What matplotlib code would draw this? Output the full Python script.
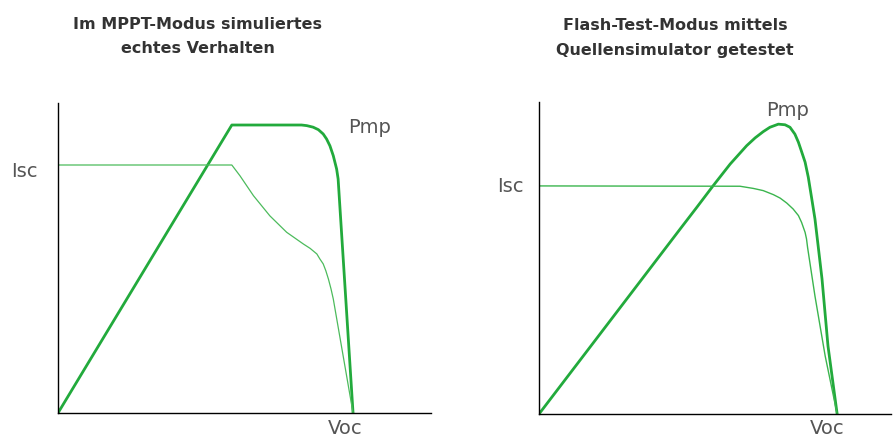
import matplotlib
matplotlib.use("Agg")
import matplotlib.pyplot as plt

# Kennlinien, Achsen jeweils 0..100 (relative Einheiten)
# links: MPPT-Modus
mppt_p_x = [0, 46.6, 65.3, 66.7, 68.4, 69.8, 71.1, 72.0, 72.9, 73.8, 74.7, 75.1, 79.1]
mppt_p_y = [0, 92.9, 92.9, 92.7, 92.2, 91.4, 90.0, 88.4, 86.2, 83.0, 78.7, 75.5, 0]
mppt_i_x = [0, 46.6, 48.8, 52.4, 56.8, 61.3, 65.8, 67.6, 69.4, 70.2, 71.1, 71.8, 72.5, 73.2, 73.8, 79.1]
mppt_i_y = [80.0, 80.0, 76.5, 70.1, 63.6, 58.3, 54.5, 53.1, 51.3, 49.7, 48.1, 45.9, 43.2, 40.0, 36.8, 0]

# rechts: Flash-Test-Modus
flash_p_x = [0, 40.1, 44.8, 49.5, 54.3, 59.0, 61.4, 63.7, 65.6, 68.0, 69.9, 71.3, 72.7,
             73.7, 74.6, 75.6, 76.5, 77.5, 78.4, 79.3, 80.4, 82.1, 84.7]
flash_p_y = [0, 59.3, 66.2, 73.2, 80.1, 86.0, 88.5, 90.5, 91.9, 92.9, 92.7, 91.9, 89.7,
             87.1, 84.1, 80.7, 75.9, 68.9, 62.5, 53.9, 43.3, 21.8, 0]
flash_i_x = [0, 57.1, 60.9, 63.7, 66.6, 68.5, 70.4, 72.2, 73.7, 74.6, 75.6, 76.0, 76.3,
             78.4, 81.3, 84.7]
flash_i_y = [73.1, 73.0, 72.3, 71.6, 70.3, 69.2, 67.6, 65.7, 63.6, 61.4, 58.2, 56.1, 53.4,
             37.8, 18.6, 0]

titles = [["Im MPPT-Modus simuliertes", "echtes Verhalten"],
          ["Flash-Test-Modus mittels", "Quellensimulator getestet"]]

GREEN = "#22aa3c"
TXT = "#555555"

fig = plt.figure(figsize=(8.95, 4.39), dpi=100)

ax1 = fig.add_axes([58 / 895, 25 / 439, 373 / 895, 310 / 439])
ax2 = fig.add_axes([539 / 895, 24 / 439, 352 / 895, 312 / 439])

ax1.plot(mppt_p_x, mppt_p_y, color=GREEN, lw=2.0, solid_joinstyle="round")
ax1.plot(mppt_i_x, mppt_i_y, color="#4cbb5c", lw=0.9, solid_joinstyle="round")
ax2.plot(flash_p_x, flash_p_y, color=GREEN, lw=2.0, solid_joinstyle="round")
ax2.plot(flash_i_x, flash_i_y, color="#3bb54e", lw=1.0, solid_joinstyle="round")

for ax in (ax1, ax2):
    ax.set_xlim(0, 100)
    ax.set_ylim(0, 100)
    ax.set_xticks([])
    ax.set_yticks([])
    ax.spines["top"].set_visible(False)
    ax.spines["right"].set_visible(False)
    ax.spines["left"].set_linewidth(1.0)
    ax.spines["bottom"].set_linewidth(1.0)

# Beschriftungen
ax1.text(-5.4, 76.5, "Isc", fontsize=14, color=TXT, ha="right", va="baseline", clip_on=False)
ax1.text(77.7, 90.6, "Pmp", fontsize=14, color=TXT, ha="left", va="baseline", clip_on=False)
ax2.text(-4.3, 71.5, "Isc", fontsize=14, color=TXT, ha="right", va="baseline", clip_on=False)
ax2.text(64.5, 95.8, "Pmp", fontsize=14, color=TXT, ha="left", va="baseline", clip_on=False)

# Voc an der unteren Bildkante
fig.text(328 / 895, 1 / 439, "Voc", fontsize=14, color=TXT, ha="left", va="bottom")
fig.text(810 / 895, 1 / 439, "Voc", fontsize=14, color=TXT, ha="left", va="bottom")

# Titel
for (l1, l2), cx, (b1, b2) in zip(titles, [197.5, 675], [(29, 53), (30, 55)]):
    fig.text(cx / 895, 1 - b1 / 439, l1, fontsize=11.5, fontweight="bold", color="#333333",
             ha="center", va="baseline")
    fig.text(cx / 895, 1 - b2 / 439, l2, fontsize=11.5, fontweight="bold", color="#333333",
             ha="center", va="baseline")

fig.savefig("out.png", dpi=100)
